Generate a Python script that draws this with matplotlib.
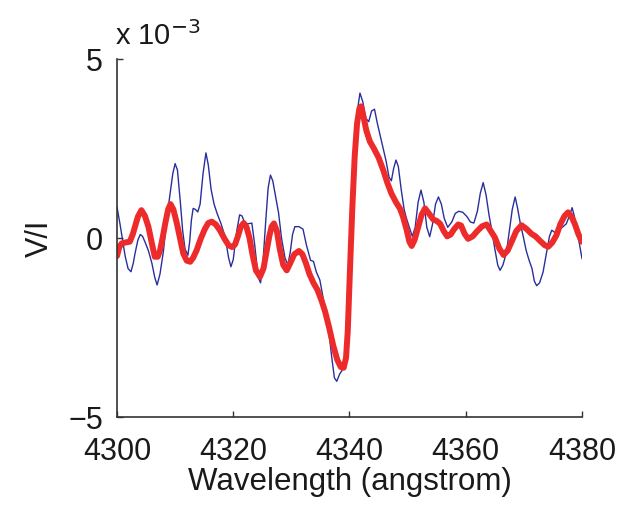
import numpy as np
import matplotlib
matplotlib.use("Agg")
import matplotlib.pyplot as plt

# observed Stokes V/I (thin blue line), units of 1e-3
obs_wl = [4300.0, 4300.5, 4301.0, 4301.4, 4301.9, 4302.4, 4302.8, 4303.1, 4303.6, 4304.0,
          4304.4, 4304.8, 4305.4, 4306.0, 4306.5, 4306.9, 4307.4, 4308.0, 4308.5, 4309.1,
          4309.6, 4310.0, 4310.4, 4310.9, 4311.3, 4311.7, 4312.2, 4312.5, 4312.8, 4313.1,
          4313.5, 4313.9, 4314.3, 4314.8, 4315.3, 4315.7, 4316.2, 4316.7, 4317.2, 4317.9,
          4318.6, 4319.2, 4319.6, 4320.0, 4320.6, 4321.1, 4321.5, 4322.0, 4322.6, 4323.2,
          4323.7, 4324.3, 4324.7, 4325.1, 4325.6, 4326.0, 4326.4, 4326.8, 4327.3, 4327.8,
          4328.3, 4328.9, 4329.4, 4329.8, 4330.2, 4330.6, 4331.3, 4332.0, 4332.6, 4333.3,
          4333.8, 4334.3, 4334.9, 4335.5, 4336.0, 4336.5, 4337.0, 4337.4, 4337.8, 4338.3,
          4338.9, 4339.3, 4339.7, 4340.1, 4340.5, 4340.9, 4341.3, 4341.8, 4342.3, 4342.8,
          4343.3, 4343.8, 4344.3, 4344.8, 4345.3, 4345.8, 4346.3, 4346.8, 4347.2, 4347.6,
          4348.0, 4348.4, 4348.9, 4349.4, 4349.8, 4350.3, 4350.8, 4351.3, 4351.8, 4352.3,
          4352.8, 4353.3, 4353.8, 4354.3, 4354.8, 4355.3, 4355.8, 4356.3, 4356.9, 4357.6,
          4358.2, 4358.8, 4359.5, 4360.2, 4360.8, 4361.4, 4362.0, 4362.5, 4363.0, 4363.5,
          4364.0, 4364.5, 4365.0, 4365.5, 4365.9, 4366.4, 4367.0, 4367.5, 4368.0, 4368.5,
          4368.9, 4369.4, 4369.9, 4370.4, 4370.9, 4371.4, 4371.8, 4372.2, 4372.7, 4373.3,
          4373.9, 4374.4, 4374.8, 4375.4, 4375.9, 4376.6, 4377.3, 4377.9, 4378.3, 4378.7,
          4379.1, 4379.6, 4380.0]
obs_vi = [0.87, 0.41, -0.10, -0.50, -0.85, -0.94, -0.70, -0.43, -0.05, 0.10,
          0.05, -0.10, -0.35, -0.70, -1.10, -1.31, -1.00, -0.35, 0.45, 1.20,
          1.80, 2.08, 1.90, 1.00, 0.20, -0.30, -0.48, -0.10, 0.50, 0.83,
          0.80, 0.73, 0.95, 1.80, 2.38, 2.05, 1.35, 0.95, 0.70, 0.40,
          0.04, -0.55, -0.80, -0.60, 0.20, 0.65, 0.62, 0.42, 0.40, 0.42,
          -0.20, -1.10, -1.25, -0.70, 0.50, 1.40, 1.76, 1.60, 1.15, 0.70,
          0.00, -0.55, -0.75, -0.40, 0.10, 0.32, 0.32, 0.25, -0.20, -0.62,
          -0.65, -0.95, -1.17, -1.70, -2.20, -2.70, -3.40, -3.90, -4.00, -3.80,
          -3.65, -3.55, -2.00, -0.20, 1.60, 2.80, 3.50, 4.05, 3.80, 3.35,
          3.25, 3.55, 3.60, 3.20, 2.85, 2.50, 2.15, 1.70, 1.60, 1.95,
          2.18, 2.00, 1.35, 0.80, 0.55, 0.30, 0.05, 0.30, 1.00, 1.34,
          1.00, 0.30, 0.04, 0.40, 0.95, 1.15, 0.95, 0.55, 0.30, 0.45,
          0.69, 0.75, 0.72, 0.60, 0.45, 0.42, 0.75, 1.25, 1.55, 1.20,
          0.65, 0.20, -0.30, -0.75, -0.90, -0.75, -0.40, 0.20, 0.80, 1.15,
          0.85, 0.40, 0.04, -0.35, -0.62, -0.85, -1.20, -1.33, -1.25, -0.95,
          -0.40, 0.05, 0.22, 0.15, 0.22, 0.30, 0.40, 0.65, 0.85, 0.60,
          0.22, -0.20, -0.57]

# model fit V/I (thick red line), units of 1e-3
fit_wl = [4300.0, 4300.4, 4300.8, 4301.5, 4302.2, 4302.7, 4303.1, 4303.6, 4304.2, 4304.8,
          4305.4, 4306.0, 4306.5, 4307.0, 4307.4, 4307.9, 4308.3, 4308.8, 4309.2, 4309.7,
          4310.3, 4310.9, 4311.4, 4312.0, 4312.6, 4313.1, 4313.7, 4314.4, 4315.1, 4315.7,
          4316.3, 4317.0, 4317.7, 4318.5, 4319.2, 4319.8, 4320.3, 4320.8, 4321.3, 4321.8,
          4322.3, 4322.8, 4323.3, 4323.9, 4324.6, 4325.2, 4325.7, 4326.2, 4326.6, 4327.0,
          4327.5, 4328.0, 4328.6, 4329.2, 4329.8, 4330.5, 4331.3, 4331.9, 4332.5, 4333.1,
          4333.8, 4334.5, 4335.2, 4335.8, 4336.5, 4337.2, 4337.9, 4338.5, 4339.0, 4339.4,
          4339.7, 4340.1, 4340.5, 4340.9, 4341.3, 4341.7, 4342.0, 4342.4, 4342.9, 4343.5,
          4344.2, 4345.0, 4345.8, 4346.5, 4347.2, 4348.0, 4348.7, 4349.2, 4349.8, 4350.3,
          4350.7, 4351.2, 4351.8, 4352.4, 4353.0, 4353.7, 4354.4, 4355.0, 4355.6, 4356.2,
          4356.8, 4357.4, 4358.0, 4358.7, 4359.2, 4359.8, 4360.4, 4361.2, 4362.0, 4362.8,
          4363.6, 4364.3, 4365.0, 4365.8, 4366.5, 4367.2, 4367.9, 4368.7, 4369.6, 4370.5,
          4371.3, 4372.0, 4372.8, 4373.6, 4374.2, 4374.9, 4375.6, 4376.3, 4377.0, 4377.6,
          4378.2, 4378.8, 4379.4, 4380.0]
fit_vi = [-0.50, -0.25, -0.15, -0.12, -0.10, 0.10, 0.32, 0.60, 0.78, 0.62,
          0.32, -0.15, -0.52, -0.52, -0.35, 0.05, 0.41, 0.80, 0.95, 0.80,
          0.41, -0.05, -0.43, -0.63, -0.66, -0.55, -0.34, -0.02, 0.25, 0.42,
          0.46, 0.38, 0.22, -0.02, -0.20, -0.25, -0.18, 0.05, 0.32, 0.42,
          0.30, 0.00, -0.45, -0.90, -1.08, -0.85, -0.40, 0.05, 0.32, 0.41,
          0.20, -0.30, -0.75, -0.90, -0.70, -0.45, -0.36, -0.45, -0.70, -1.00,
          -1.25, -1.45, -1.75, -2.05, -2.50, -3.00, -3.40, -3.60, -3.62, -3.35,
          -2.60, -0.80, 0.90, 2.30, 3.20, 3.62, 3.68, 3.40, 3.00, 2.70,
          2.50, 2.25, 1.90, 1.55, 1.25, 1.00, 0.82, 0.60, 0.25, -0.10,
          -0.22, -0.05, 0.30, 0.65, 0.83, 0.68, 0.52, 0.48, 0.40, 0.20,
          0.05, 0.10, 0.25, 0.38, 0.35, 0.12, -0.02, 0.05, 0.20, 0.33,
          0.38, 0.20, 0.02, -0.30, -0.47, -0.35, -0.10, 0.20, 0.36, 0.25,
          0.12, 0.05, -0.08, -0.20, -0.24, -0.12, 0.08, 0.40, 0.62, 0.72,
          0.60, 0.38, 0.10, -0.10]

xticks = [4300, 4320, 4340, 4360, 4380]
yticks = [-5, 0, 5]
ytick_labels = ['\u22125', '0', '5']

plt.rcParams['font.family'] = ['Liberation Sans', 'DejaVu Sans']

fig = plt.figure(figsize=(6.21, 5.05), dpi=100)
ax = fig.add_axes([0.1884, 0.174, 0.7488, 0.709])

ax.plot(obs_wl, obs_vi, color='#2a2f9c', lw=1.0)
ax.plot(fit_wl, fit_vi, color='#ee2b2b', lw=4.3, solid_capstyle='round',
        solid_joinstyle='round')

ax.set_xlim(4300, 4380)
ax.set_ylim(-5, 5)
ax.set_xticks(xticks)
ax.set_yticks(yticks)
ax.set_yticklabels(ytick_labels)

# matlab style: left/bottom axes only, ticks pointing in
ax.spines['top'].set_visible(False)
ax.spines['right'].set_visible(False)
for s in ['left', 'bottom']:
    ax.spines[s].set_color('#333333')
    ax.spines[s].set_linewidth(1.2)
ax.tick_params(direction='in', length=4, width=1, colors='#333333',
               labelcolor='#1a1a1a', labelsize=22)
ax.tick_params(axis='x', pad=14)
ax.tick_params(axis='y', pad=10)

ax.set_xlabel('Wavelength (angstrom)', fontsize=22.5, color='#1a1a1a', labelpad=0)
ax.set_ylabel('V/I', fontsize=22, color='#1a1a1a', labelpad=10)
ax.text(-0.004, 1.039, r'x 10$^{-3}$', transform=ax.transAxes, fontsize=21,
        color='#1a1a1a', ha='left', va='baseline')

fig.savefig('out.png', dpi=100)
